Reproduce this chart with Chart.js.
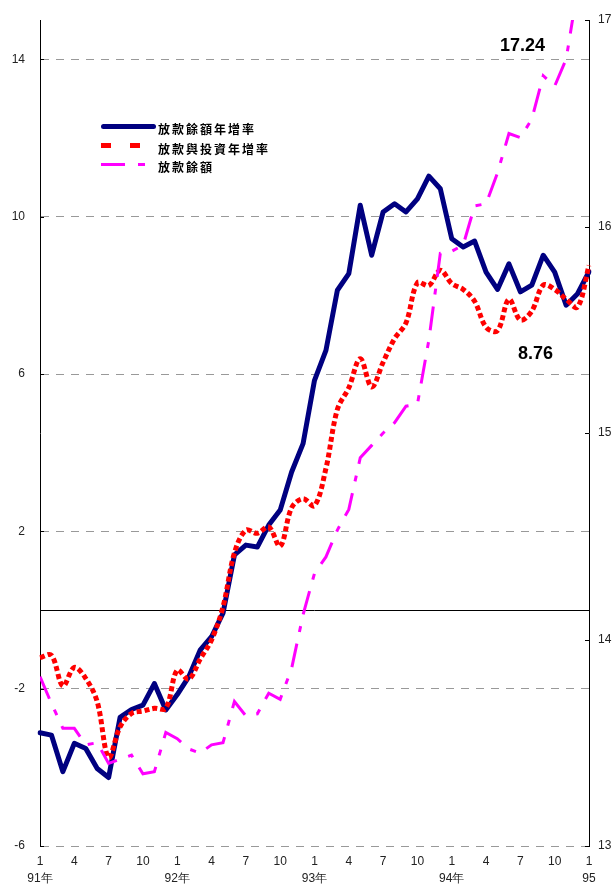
<!DOCTYPE html>
<html>
<head>
<meta charset="utf-8">
<script src="https://cdn.jsdelivr.net/npm/chart.js@4.4.1/dist/chart.umd.min.js"></script>
<style>
  html, body { margin: 0; padding: 0; background: #fff; }
  #wrap { position: relative; width: 615px; height: 885px; }
  .sw { position: absolute; }
  .lt { position: absolute; left: 158px; font: bold 12px "Noto Sans CJK TC", sans-serif; letter-spacing: 2px; line-height: 16px; color: #000; white-space: nowrap; }
  .note { position: absolute; font: bold 18px "Liberation Sans", Arial, sans-serif; line-height: 20px; color: #000; }
</style>
</head>
<body>
<div id="wrap">
  <canvas id="c" width="615" height="885"></canvas>

  <!-- legend (drawn inside the plot, like the original) -->
  <div class="sw" style="left:101px;top:124px;width:55px;height:5px;background:#000080;border-radius:3px"></div>
  <div class="sw" style="left:101px;top:143px;width:10px;height:5px;background:#FF0000"></div>
  <div class="sw" style="left:130px;top:143px;width:10px;height:5px;background:#FF0000"></div>
  <div class="sw" style="left:101px;top:163px;width:24px;height:3px;background:#FF00FF"></div>
  <div class="sw" style="left:138px;top:163px;width:7px;height:3px;background:#FF00FF"></div>
  <div class="lt" id="l0" style="top:121px"></div>
  <div class="lt" id="l1" style="top:141px"></div>
  <div class="lt" id="l2" style="top:159px"></div>

  <div class="note" id="n1" style="left:500px;top:35px"></div>
  <div class="note" id="n2" style="left:518px;top:343px"></div>
</div>
<script>
// ── 放款餘額 / 放款與投資 ──
// monthly, 91年1月 .. 95年1月

const years = ['91年', '92年', '93年', '94年', '95'];
const months = ['1', '2', '3', '4', '5', '6', '7', '8', '9', '10', '11', '12'];
const leftTicks = [-6, -2, 2, 6, 10, 14];

const seriesNames = ['放款餘額年增率', '放款與投資年增率', '放款餘額'];
const notes = ['17.24', '8.76'];

// 放款餘額年增率 (%), left axis
const loanGrowth = [
  -3.12, -3.18, -4.11, -3.39, -3.52, -4.03, -4.26, -2.73, -2.53, -2.42, -1.87, -2.54,
  -2.15, -1.70, -1.02, -0.68, -0.08, 1.40, 1.65, 1.60, 2.16, 2.54, 3.51, 4.23,
  5.84, 6.60, 8.13, 8.55, 10.29, 9.02, 10.12, 10.33, 10.12, 10.45, 11.03, 10.71,
  9.44, 9.23, 9.38, 8.59, 8.15, 8.80, 8.09, 8.26, 9.02, 8.59, 7.75, 8.04,
  8.60
];

// 放款與投資年增率 (%), left axis
const loanInvGrowth = [
  -1.21, -1.15, -1.93, -1.46, -1.74, -2.33, -3.75, -2.97, -2.63, -2.57, -2.50, -2.50,
  -1.53, -1.76, -1.25, -0.76, 0.08, 1.45, 2.03, 1.95, 2.11, 1.62, 2.60, 2.83,
  2.65, 3.60, 5.10, 5.65, 6.39, 5.67, 6.30, 6.90, 7.30, 8.32, 8.25, 8.64,
  8.30, 8.15, 7.85, 7.19, 7.10, 7.90, 7.37, 7.60, 8.26, 8.15, 7.90, 7.70,
  8.76
];

// 放款餘額 (兆元), right axis
const loanBalance = [
  13.82, 13.69, 13.57, 13.57, 13.49, 13.50, 13.40, 13.42, 13.44, 13.35, 13.36, 13.55,
  13.52, 13.47, 13.45, 13.49, 13.50, 13.70, 13.63, 13.64, 13.74, 13.71, 13.86, 14.12,
  14.32, 14.40, 14.53, 14.63, 14.88, 14.94, 15.00, 15.05, 15.13, 15.14, 15.45, 15.87,
  15.88, 15.91, 16.10, 16.11, 16.26, 16.45, 16.43, 16.52, 16.73, 16.68, 16.81, 17.15,
  17.24
];

// categories: every month from 91年1 to 95年1
const categories = [];
for (let y = 0; y < 4; y++) months.forEach(m => categories.push(years[y] + m));
categories.push(years[4] + '1');

seriesNames.forEach((s, i) => { document.getElementById('l' + i).textContent = s; });
document.getElementById('n1').textContent = notes[0];
document.getElementById('n2').textContent = notes[1];

const tickFont = { size: 12, family: 'Liberation Sans' };

// zero line + short inward tick marks on both value axes
const axisMarks = {
  id: 'axisMarks',
  beforeDatasetsDraw(chart) {
    const { ctx, chartArea, scales } = chart;
    ctx.save();
    ctx.strokeStyle = '#000';
    ctx.lineWidth = 1;
    const y0 = Math.round(scales.y.getPixelForValue(0)) + 0.5;
    ctx.beginPath();
    ctx.moveTo(chartArea.left, y0);
    ctx.lineTo(chartArea.right, y0);
    ctx.stroke();
    ctx.beginPath();
    scales.y.ticks.forEach(t => {
      const p = Math.round(scales.y.getPixelForValue(t.value)) + 0.5;
      ctx.moveTo(chartArea.left, p);
      ctx.lineTo(chartArea.left + 4, p);
    });
    scales.y2.ticks.forEach(t => {
      const p = Math.round(scales.y2.getPixelForValue(t.value)) + 0.5;
      ctx.moveTo(chartArea.right - 4, p);
      ctx.lineTo(chartArea.right, p);
    });
    ctx.stroke();
    ctx.restore();
  }
};

// fixed scale boxes so the plot area sits where the original has it
const fixBox = (w) => s => { s.width = w; s.paddingTop = 0; s.paddingBottom = 0; };

new Chart(document.getElementById('c'), {
  type: 'line',
  data: {
    labels: categories,
    datasets: [
      {
        label: seriesNames[0],
        data: loanGrowth,
        yAxisID: 'y',
        borderColor: '#000080',
        borderWidth: 5,
        borderJoinStyle: 'round',
        borderCapStyle: 'round',
        pointRadius: 0,
        tension: 0,
        order: 2
      },
      {
        label: seriesNames[1],
        data: loanInvGrowth,
        yAxisID: 'y',
        borderColor: '#FF0000',
        borderWidth: 5,
        borderDash: [5, 3],
        pointRadius: 0,
        tension: 0.35,
        order: 1
      },
      {
        label: seriesNames[2],
        data: loanBalance,
        yAxisID: 'y2',
        borderColor: '#FF00FF',
        borderWidth: 3,
        borderDash: [24, 12, 6, 12],
        pointRadius: 0,
        tension: 0,
        clip: 0,
        order: 0
      }
    ]
  },
  options: {
    responsive: false,
    animation: false,
    layout: { padding: { top: 20, left: 0, right: 0, bottom: 0 } },
    plugins: {
      legend: { display: false },
      tooltip: { enabled: false }
    },
    scales: {
      x: {
        grid: { display: false, drawTicks: false },
        border: { display: false },
        ticks: {
          autoSkip: false,
          maxRotation: 0,
          minRotation: 0,
          padding: 8,
          color: '#222',
          font: { ...tickFont, lineHeight: 1.35 },
          callback: (v, i) => {
            if (i % 3) return '';
            const m = months[i % 12];
            return i % 12 === 0 ? [m, years[i / 12]] : m;
          }
        },
        afterFit: s => { s.height = 39; }
      },
      y: {
        position: 'left',
        min: -6,
        max: 15,
        afterBuildTicks: s => { s.ticks = leftTicks.map(v => ({ value: v })); },
        ticks: { padding: 15, color: '#222', font: tickFont },
        grid: { color: '#999', lineWidth: 1, drawTicks: false },
        border: { display: true, color: '#000', width: 1, dash: [8, 7] },
        afterFit: fixBox(40)
      },
      y2: {
        position: 'right',
        min: 13,
        max: 17,
        ticks: { stepSize: 1, padding: 9, color: '#222', font: tickFont },
        grid: { display: false, drawTicks: false },
        border: { display: true, color: '#000', width: 1 },
        afterFit: fixBox(26)
      }
    }
  },
  plugins: [axisMarks]
});
</script>
</body>
</html>
